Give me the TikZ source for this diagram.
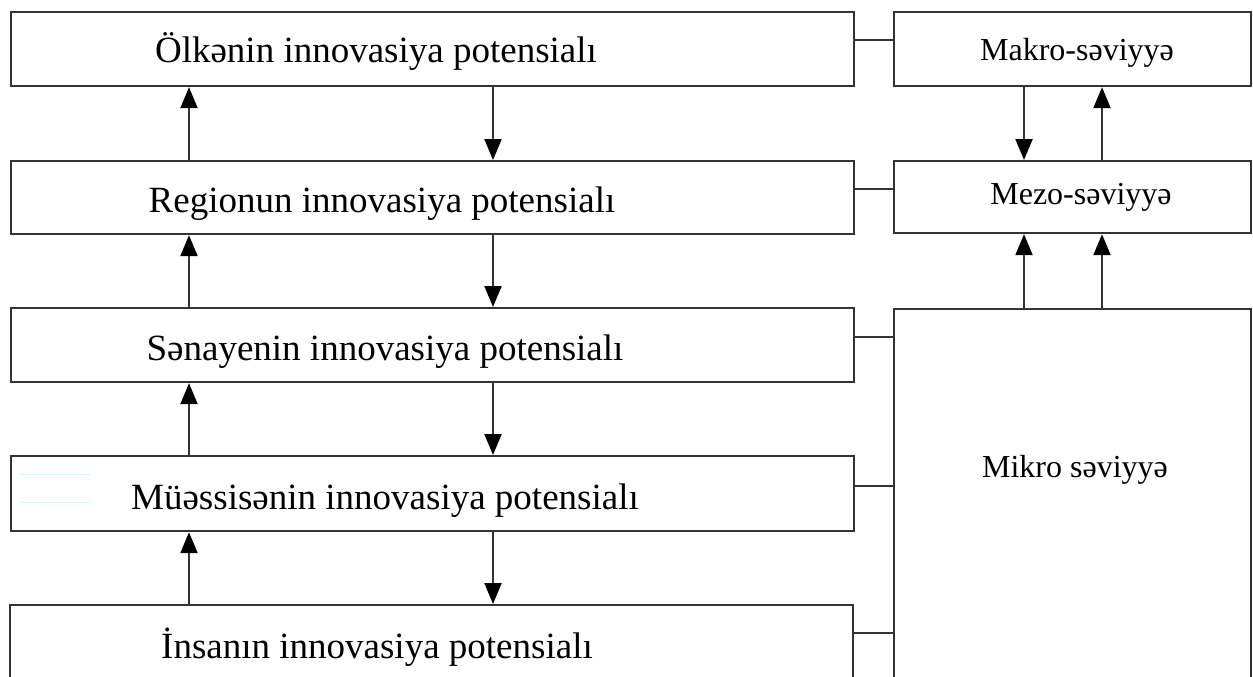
\documentclass[tikz,border=0pt]{standalone}
\usepackage{fontspec}
\setmainfont{Liberation Serif}
\usetikzlibrary{arrows.meta}
\begin{document}
\begin{tikzpicture}[x=1pt,y=-1pt,
  box/.style={draw=black!80,line width=2.2pt,fill=white,inner sep=0pt,anchor=north west},
  biglbl/.style={anchor=base,inner sep=0pt,font=\fontsize{37}{40}\selectfont},
  smalllbl/.style={anchor=base,inner sep=0pt,font=\fontsize{32}{36}\selectfont},
  link/.style={draw=black!80,line width=2.2pt},
  arr/.style={draw=black!80,line width=2.2pt,-{Triangle[length=21pt,width=17pt,color=black,fill=black]}}]
\useasboundingbox (0,0) rectangle (1253,677);
\clip (0,0) rectangle (1253,677);

% left column: potential levels
\node[box,minimum width=843pt,minimum height=74pt] (b1) at (10,11) {};
\node[box,minimum width=843pt,minimum height=73pt] (b2) at (10,160) {};
\node[box,minimum width=843pt,minimum height=74pt] (b3) at (10,307) {};
\node[box,minimum width=843pt,minimum height=75pt] (b4) at (10,455) {};
\node[box,minimum width=843pt,minimum height=90pt] (b5) at (9,604) {};

\node[biglbl] (t1) at (376,63) {Ölkənin innovasiya potensialı};
\node[biglbl] (t2) at (382,212) {Regionun innovasiya potensialı};
\node[biglbl] (t3) at (385,360) {Sənayenin innovasiya potensialı};
\node[biglbl] (t4) at (385,509) {Müəssisənin innovasiya potensialı};
\node[biglbl] (t5) at (377,658) {İnsanın innovasiya potensialı};

% faint guide strokes inside the enterprise box
\coordinate (g1) at (20,474);
\coordinate (g2) at (90,474);
\coordinate (g3) at (20,502);
\coordinate (g4) at (90,502);
\draw[cyan!15,line width=1pt] (g1) -- (g2);
\draw[cyan!15,line width=1pt] (g3) -- (g4);

% right column: levels
\node[box,minimum width=357pt,minimum height=74pt] (mak) at (893,11) {};
\node[box,minimum width=357pt,minimum height=72pt] (mez) at (893,160) {};
\node[box,minimum width=357pt,minimum height=390pt] (mik) at (893,308) {};

\node[smalllbl] (tm1) at (1077,60) {Makro-səviyyə};
\node[smalllbl] (tm2) at (1081,204) {Mezo-səviyyə};
\node[smalllbl] (tm3) at (1075,477) {Mikro səviyyə};

% horizontal links between columns
\coordinate (h1) at (853,40);
\coordinate (h2) at (853,189);
\coordinate (h3) at (853,337);
\coordinate (h4) at (853,486);
\coordinate (h5) at (853,633);
\draw[link] (h1) -- (h1 -| mak.west);
\draw[link] (h2) -- (h2 -| mez.west);
\draw[link] (h3) -- (h3 -| mik.west);
\draw[link] (h4) -- (h4 -| mik.west);
\draw[link] (h5) -- (h5 -| mik.west);

% upward arrows (left)
\coordinate (ux) at (189,0);
\draw[arr] (ux |- b2.north) -- (ux |- b1.south);
\draw[arr] (ux |- b3.north) -- (ux |- b2.south);
\draw[arr] (ux |- b4.north) -- (ux |- b3.south);
\draw[arr] (ux |- b5.north) -- (ux |- b4.south);

% downward arrows (left)
\coordinate (dx) at (493,0);
\draw[arr] (dx |- b1.south) -- (dx |- b2.north);
\draw[arr] (dx |- b2.south) -- (dx |- b3.north);
\draw[arr] (dx |- b3.south) -- (dx |- b4.north);
\draw[arr] (dx |- b4.south) -- (dx |- b5.north);

% arrows (right)
\coordinate (rx1) at (1024,0);
\coordinate (rx2) at (1102,0);
\draw[arr] (rx1 |- mak.south) -- (rx1 |- mez.north);
\draw[arr] (rx2 |- mez.north) -- (rx2 |- mak.south);
\draw[arr] (rx1 |- mik.north) -- (rx1 |- mez.south);
\draw[arr] (rx2 |- mik.north) -- (rx2 |- mez.south);
\end{tikzpicture}
\end{document}
